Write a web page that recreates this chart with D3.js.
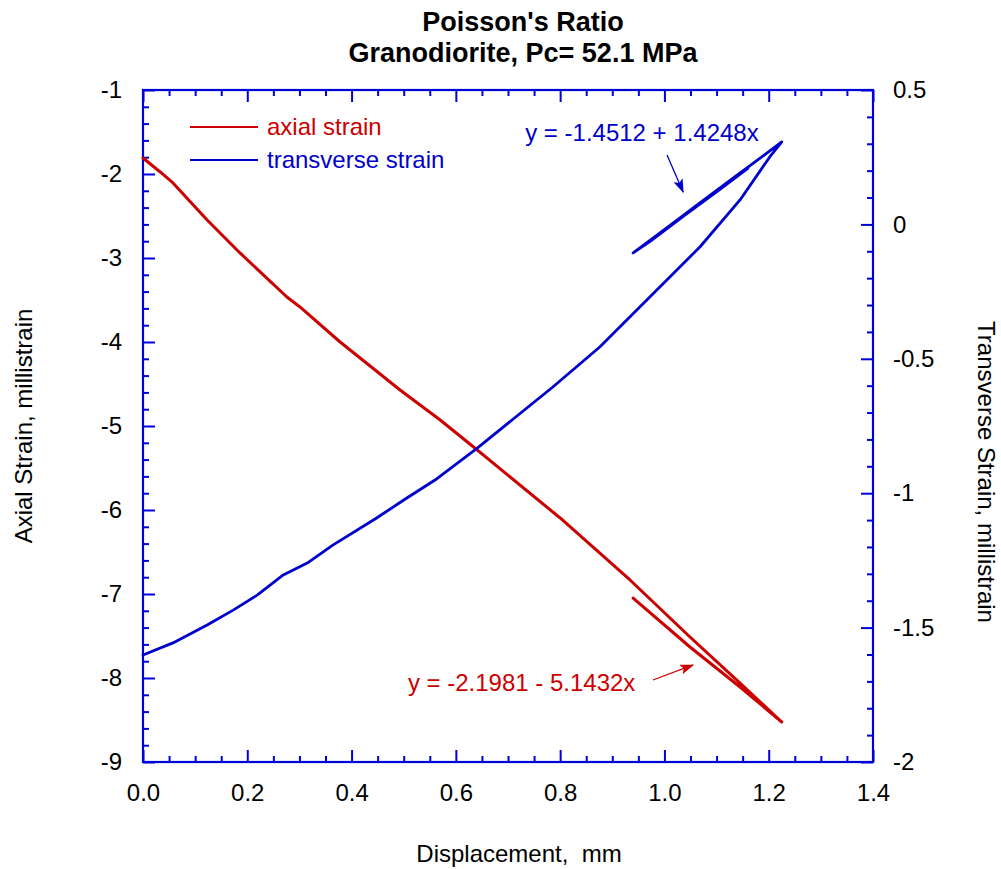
<!DOCTYPE html>
<html>
<head>
<meta charset="utf-8">
<script src="https://cdn.jsdelivr.net/npm/d3@7"></script>
<style>
  html, body { margin: 0; padding: 0; background: #fff; }
  svg { display: block; font-family: Arial, "Liberation Sans", Helvetica, sans-serif; }
</style>
</head>
<body>
<svg id="chart" width="1001" height="869"></svg>
<script>
// Displacement (mm) and axial strain (millistrain), loading then unloading
const axialDisp = [0, 0.033, 0.0575, 0.123, 0.186, 0.276, 0.301, 0.378, 0.493, 0.570, 0.641, 0.800, 0.934, 1.049, 1.145, 1.225,
                   1.145, 1.049, 0.940];
const axialStrain = [-1.81, -1.976, -2.107, -2.548, -2.94, -3.464, -3.583, -4.0, -4.571, -4.929, -5.286, -6.095, -6.833, -7.512, -8.06, -8.524,
                     -8.107, -7.631, -7.048];

// Displacement (mm) and transverse strain (millistrain): loading, unloading, partial reload
const transDisp = [0, 0.0575, 0.123, 0.173, 0.219, 0.269, 0.315, 0.364, 0.445, 0.506, 0.560, 0.641, 0.786, 0.876, 0.972, 1.068, 1.145, 1.202, 1.225,
                   1.197, 1.131, 1.068, 1.005, 0.940,
                   0.972, 1.036, 1.100, 1.160];
const transStrain = [-1.602, -1.557, -1.490, -1.435, -1.379, -1.304, -1.260, -1.193, -1.096, -1.018, -0.951, -0.832, -0.605, -0.456, -0.270, -0.084, 0.091, 0.251, 0.307,
                     0.266, 0.171, 0.080, -0.012, -0.106,
                     -0.064, 0.030, 0.121, 0.208];

// Axis ticks
const xTicks = [0, 0.2, 0.4, 0.6, 0.8, 1.0, 1.2, 1.4];
const leftTicks = [-9, -8, -7, -6, -5, -4, -3, -2, -1];
const rightTicks = [-2, -1.5, -1, -0.5, 0, 0.5];

// Regression fits shown as annotations
const fitLabels = ["y = -2.1981 - 5.1432x", "y = -1.4512 + 1.4248x"];
const seriesNames = ["axial strain", "transverse strain"];

const RED = "#cc0000", BLUE = "#0000cc", AXIS = "#0000dd";
const svg = d3.select("#chart");
svg.append("rect").attr("width", 1001).attr("height", 869).attr("fill", "#fff");

const L = 143, R = 873, T = 90, B = 762;
const x = d3.scaleLinear().domain([0, 1.4]).range([L, R]);
const yL = d3.scaleLinear().domain([-9, -1]).range([B, T]);
const yR = d3.scaleLinear().domain([-2, 0.5]).range([B, T]);

const fmt = d => String(+d.toFixed(2));
const FS = 24;

function styleAxis(g, showText) {
  g.select(".domain").remove();
  g.selectAll(".tick line").attr("stroke", AXIS).attr("stroke-width", 2);
  g.selectAll(".tick text").attr("fill", "#000").attr("font-size", FS)
    .attr("font-family", "Arial, 'Liberation Sans', sans-serif");
  if (!showText) g.selectAll(".tick text").remove();
}

// minor tick sets
const xMinor = d3.range(0, 1.4001, 0.05).filter(v => Math.abs(v / 0.2 - Math.round(v / 0.2)) > 1e-6);
const lMinor = d3.range(-9, -0.999, 0.2).filter(v => Math.abs(v - Math.round(v)) > 1e-6);
const rMinor = d3.range(-2, 0.5001, 0.1).filter(v => Math.abs(v / 0.5 - Math.round(v / 0.5)) > 1e-6);

// bottom
svg.append("g").attr("transform", `translate(0,${B})`)
  .call(d3.axisBottom(x).tickValues(xTicks).tickFormat(d3.format(".1f")).tickSizeInner(-12).tickSizeOuter(0).tickPadding(22))
  .call(g => styleAxis(g, true));
svg.append("g").attr("transform", `translate(0,${B})`)
  .call(d3.axisBottom(x).tickValues(xMinor).tickSizeInner(-6).tickSizeOuter(0))
  .call(g => styleAxis(g, false));
// top
svg.append("g").attr("transform", `translate(0,${T})`)
  .call(d3.axisTop(x).tickValues(xTicks).tickSizeInner(-12).tickSizeOuter(0))
  .call(g => styleAxis(g, false));
svg.append("g").attr("transform", `translate(0,${T})`)
  .call(d3.axisTop(x).tickValues(xMinor).tickSizeInner(-6).tickSizeOuter(0))
  .call(g => styleAxis(g, false));
// left
svg.append("g").attr("transform", `translate(${L},0)`)
  .call(d3.axisLeft(yL).tickValues(leftTicks).tickFormat(fmt).tickSizeInner(-12).tickSizeOuter(0).tickPadding(21))
  .call(g => styleAxis(g, true));
svg.append("g").attr("transform", `translate(${L},0)`)
  .call(d3.axisLeft(yL).tickValues(lMinor).tickSizeInner(-6).tickSizeOuter(0))
  .call(g => styleAxis(g, false));
// right
svg.append("g").attr("transform", `translate(${R},0)`)
  .call(d3.axisRight(yR).tickValues(rightTicks).tickFormat(fmt).tickSizeInner(-12).tickSizeOuter(0).tickPadding(20))
  .call(g => styleAxis(g, true));
svg.append("g").attr("transform", `translate(${R},0)`)
  .call(d3.axisRight(yR).tickValues(rMinor).tickSizeInner(-6).tickSizeOuter(0))
  .call(g => styleAxis(g, false));

// frame
svg.append("rect").attr("x", L).attr("y", T).attr("width", R - L).attr("height", B - T)
  .attr("fill", "none").attr("stroke", AXIS).attr("stroke-width", 2.2);

// curves
const lineL = d3.line().x(d => x(d[0])).y(d => yL(d[1]));
const lineR = d3.line().x(d => x(d[0])).y(d => yR(d[1]));
svg.append("path").datum(d3.zip(axialDisp, axialStrain)).attr("d", lineL)
  .attr("fill", "none").attr("stroke", RED).attr("stroke-width", 3).attr("stroke-linejoin", "round").attr("stroke-linecap", "round");
svg.append("path").datum(d3.zip(transDisp, transStrain)).attr("d", lineR)
  .attr("fill", "none").attr("stroke", BLUE).attr("stroke-width", 2.8).attr("stroke-linejoin", "round").attr("stroke-linecap", "round");

// legend
const legend = svg.append("g");
[[RED, 127], [BLUE, 160]].forEach(([c, yy], i) => {
  legend.append("line").attr("x1", 190).attr("x2", 258).attr("y1", yy).attr("y2", yy)
    .attr("stroke", c).attr("stroke-width", 2);
  legend.append("text").attr("x", 267).attr("y", yy + 8).attr("fill", c).attr("font-size", FS)
    .text(seriesNames[i]);
});

// arrow markers
const defs = svg.append("defs");
[["arrRed", RED], ["arrBlue", BLUE]].forEach(([id, c]) => {
  defs.append("marker").attr("id", id).attr("viewBox", "0 -5 14 10").attr("refX", 13).attr("refY", 0)
    .attr("markerWidth", 14).attr("markerHeight", 10).attr("markerUnits", "userSpaceOnUse").attr("orient", "auto")
    .append("path").attr("d", "M0,-5L14,0L0,5L3,0Z").attr("fill", c);
});

// fit annotations
svg.append("text").attr("x", x(0.508)).attr("y", yL(-8.155)).attr("fill", RED).attr("font-size", FS).text(fitLabels[0]);
svg.append("line").attr("x1", x(0.978)).attr("y1", yL(-8.024)).attr("x2", x(1.055)).attr("y2", yL(-7.845))
  .attr("stroke", RED).attr("stroke-width", 1.3).attr("marker-end", "url(#arrRed)");
svg.append("text").attr("x", x(0.733)).attr("y", yR(0.310)).attr("fill", BLUE).attr("font-size", FS).text(fitLabels[1]);
svg.append("line").attr("x1", x(1.005)).attr("y1", yR(0.258)).attr("x2", x(1.036)).attr("y2", yR(0.120))
  .attr("stroke", BLUE).attr("stroke-width", 1.3).attr("marker-end", "url(#arrBlue)");

// titles
svg.append("text").attr("x", 523).attr("y", 31).attr("text-anchor", "middle").attr("font-size", 27)
  .attr("font-weight", "bold").text("Poisson's Ratio");
svg.append("text").attr("x", 523).attr("y", 62).attr("text-anchor", "middle").attr("font-size", 27)
  .attr("font-weight", "bold").text("Granodiorite, Pc= 52.1 MPa");

svg.append("text").attr("x", 519).attr("y", 862).attr("text-anchor", "middle").attr("font-size", FS)
  .attr("xml:space", "preserve").style("white-space", "pre").text("Displacement,  mm");
svg.append("text").attr("transform", `translate(32,426) rotate(-90)`).attr("text-anchor", "middle")
  .attr("font-size", FS).text("Axial Strain, millistrain");
svg.append("text").attr("transform", `translate(978,472) rotate(90)`).attr("text-anchor", "middle")
  .attr("font-size", FS).text("Transverse Strain, millistrain");
</script>
</body>
</html>
